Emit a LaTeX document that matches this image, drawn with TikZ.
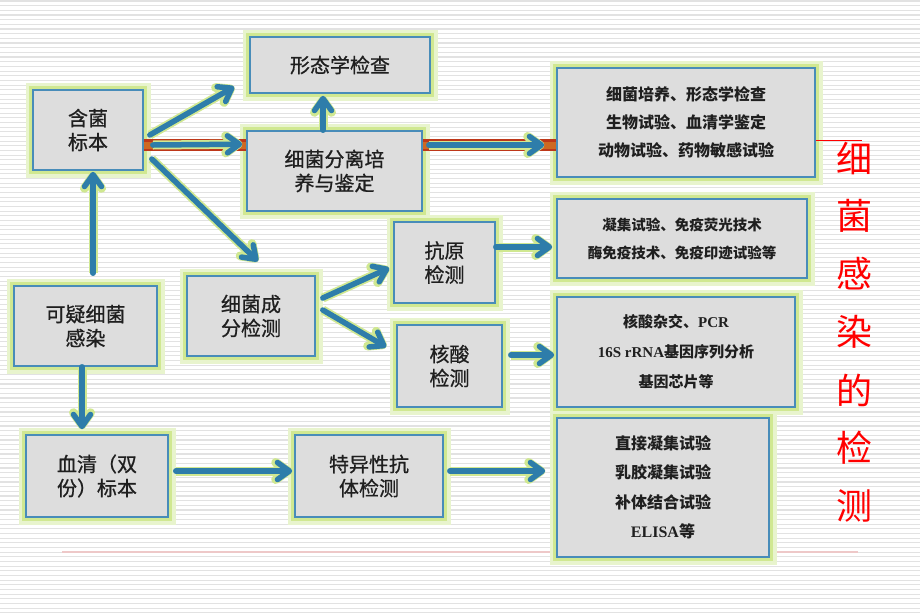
\documentclass[tikz,border=0pt]{standalone}
\usepackage{fontspec}
\setmainfont{Noto Sans CJK SC}
\newfontfamily\cjkm{Noto Sans CJK SC}[FakeBold=0.8]
\newfontfamily\latfont{Liberation Serif}
\usepackage{tikz}
\usetikzlibrary{arrows.meta}

\newcommand\latn[1]{{\latfont\bfseries #1}}

\definecolor{arrblue}{RGB}{46,125,170}
\definecolor{boxline}{RGB}{72,140,185}
\definecolor{boxfill}{RGB}{221,221,221}
\definecolor{glow}{RGB}{208,232,145}
\definecolor{glowout}{RGB}{232,244,205}
\definecolor{bandred}{RGB}{190,55,25}
\definecolor{bandorange}{RGB}{205,105,35}
\definecolor{stripe}{RGB}{226,226,226}
\definecolor{pinkline}{RGB}{238,200,200}

\tikzset{
  box/.style={draw=boxline, line width=1.6pt, fill=boxfill, inner sep=0pt, align=center, text=black!88,
    preaction={draw=glowout, line width=15pt, rounded corners=5pt},
    preaction={draw=glow, line width=8pt, rounded corners=2pt}},
  arr/.style={draw=arrblue, line width=5.5pt, line cap=round, -{Straight Barb[length=12pt,width=17pt,round]},
    preaction={draw=glow, line width=9pt}},
  band/.style={draw=bandred, line width=12pt, postaction={draw=bandorange, line width=7pt}},
  redtxt/.style={text=red, font=\fontsize{36}{36}\selectfont, inner sep=0pt}
}

\begin{document}
\begin{tikzpicture}[x=1pt, y=-1pt]

  \useasboundingbox (0,0) rectangle (920,614);

  %background
  \fill[white] (0,0) rectangle (920,614);
  \foreach \yy in {1,5.67,...,614}{
    \draw[stripe, line width=1.1pt] (0,\yy) -- (920,\yy);
  }
  \draw[pinkline, line width=2pt] (62,552) -- (858,552);

  %left boxes
  \foreach \name/\cx/\cy/\w/\h/\txt in {hanjun/88/130/110/80/{含菌\\标本},
      xingtai/340/65/180/56/{形态学检查},
      fenli/334.5/171/175/80/{细菌分离培\\养与鉴定},
      keyi/85.5/326/143/80/{可疑细菌\\感染},
      chengfen/251/316/128/80/{细菌成\\分检测},
      kangyuan/444.5/262.5/101/81/{抗原\\检测},
      hesuan/449.5/366/105/82/{核酸\\检测},
      xueqing/97/476/142/82/{血清（双\\份）标本},
      teyi/369/476/148/82/{特异性抗\\体检测}}{
    \node[box, minimum width=\w pt, minimum height=\h pt, font=\cjkm\fontsize{20}{24}\selectfont] (\name) at (\cx,\cy) {\txt};
  }

  %right boxes
  \foreach \name/\cx/\cy/\w/\h/\fs/\ls/\txt in {r1/686/122.5/258/109/16/28/{细菌培养、形态学检查\\生物试验、血清学鉴定\\动物试验、药物敏感试验},
      r2/682/238.5/250/79/14.5/28/{凝集试验、免疫荧光技术\\酶免疫技术、免疫印迹试验等},
      r3/676/352/238/110/15/30/{核酸杂交、\latn{PCR}\\\latn{16S rRNA}基因序列分析\\基因芯片等},
      r4/663/487.5/212/139/16/29.5/{直接凝集试验\\乳胶凝集试验\\补体结合试验\\\latn{ELISA}等}}{
    \node[box, minimum width=\w pt, minimum height=\h pt, font=\fontsize{\fs}{\ls}\selectfont\bfseries] (\name) at (\cx,\cy) {\txt};
  }

  %red line
  \coordinate (redend) at (862,140);
  \draw[band] ([yshift=-15pt]hanjun.east) -- ([yshift=26pt]fenli.west);
  \draw[band] ([yshift=26pt]fenli.east) -- ([yshift=-22.5pt]r1.west);
  \draw[red, line width=1pt] ([yshift=-17.5pt]r1.east) -- (redend);

  %arrows
  \draw[arr] ([xshift=6pt,yshift=-5pt]hanjun.east) -- ([xshift=-15pt,yshift=7pt]xingtai.south west);
  \draw[arr] ([xshift=9pt,yshift=-15pt]hanjun.east) -- ([xshift=-4pt,yshift=-14pt]fenli.north west);
  \draw[arr] ([xshift=-11.5pt]fenli.north) -- ([xshift=-17pt,yshift=-2pt]xingtai.south);
  \draw[arr] ([xshift=8pt,yshift=-29pt]hanjun.east) -- ([xshift=7pt,yshift=14pt]chengfen.north);
  \draw[arr] ([xshift=6pt,yshift=26pt]fenli.east) -- ([xshift=-12pt,yshift=-22.5pt]r1.west);
  \draw[arr] ([xshift=7.5pt,yshift=12pt]keyi.north) -- ([xshift=5pt,yshift=-1pt]hanjun.south);
  \draw[arr] ([xshift=-3.5pt]keyi.south) -- ([xshift=-15pt,yshift=5pt]xueqing.north);
  \draw[arr] ([xshift=7pt,yshift=18pt]chengfen.east) -- ([xshift=-4pt,yshift=-5.5pt]kangyuan.west);
  \draw[arr] ([xshift=7pt,yshift=6pt]chengfen.east) -- ([xshift=-10pt,yshift=19pt]hesuan.west);
  \draw[arr] ([yshift=15.5pt]kangyuan.east) -- ([xshift=-4pt,yshift=-8.5pt]r2.west);
  \draw[arr] ([xshift=8pt,yshift=11pt]hesuan.east) -- ([xshift=-2pt,yshift=-3pt]r3.west);
  \draw[arr] ([xshift=7pt,yshift=5pt]xueqing.east) -- ([xshift=-2pt,yshift=5pt]teyi.west);
  \draw[arr] ([xshift=6pt,yshift=5pt]teyi.east) -- ([xshift=-11pt,yshift=16.5pt]r4.west);

  %title
  \foreach \i/\ch in {0/细,1/菌,2/感,3/染,4/的,5/检,6/测}{
    \node[redtxt] (t\i) at (854,158+58*\i) {\ch};
  }

\end{tikzpicture}
\end{document}
